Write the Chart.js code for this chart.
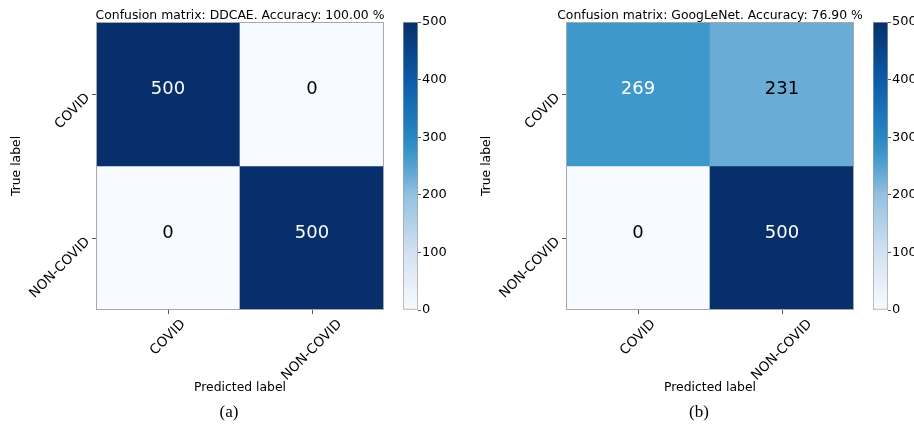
<!DOCTYPE html>
<html>
<head>
<meta charset="utf-8">
<script src="https://cdn.jsdelivr.net/npm/chart.js@4.4.1/dist/chart.umd.min.js"></script>
<style>
  html, body { margin: 0; padding: 0; background: #fff; overflow: hidden; }
  #page { position: relative; width: 914px; height: 428px; overflow: hidden; background: #fff; }
  .panel { position: absolute; top: 0; width: 470px; height: 428px; }
  .cm { position: absolute; left: 0; top: 0; }
  .cbar { position: absolute; left: 390px; top: 0; }
  .caption { position: absolute; top: 402px; width: 40px; text-align: center;
             font: 17px "Liberation Serif", "Times New Roman", serif; line-height: 20px; color: #000; }
</style>
</head>
<body>
<div id="page">
  <div class="panel" style="left:0">
    <canvas class="cm" id="cmA" width="400" height="428"></canvas>
    <canvas class="cbar" id="cbA" width="60" height="428"></canvas>
    <div class="caption" style="left:209px">(a)</div>
  </div>
  <div class="panel" style="left:470px">
    <canvas class="cm" id="cmB" width="400" height="428"></canvas>
    <canvas class="cbar" id="cbB" width="60" height="428"></canvas>
    <div class="caption" style="left:209px">(b)</div>
  </div>
</div>
<script>
// class names, rows = true label, columns = predicted label
const classes = ['COVID', 'NON-COVID'];
const ddcaeMatrix = [[500, 0], [0, 500]];
const googlenetMatrix = [[269, 231], [0, 500]];
const colorbarTicks = [0, 100, 200, 300, 400, 500];

const FONT = '"DejaVu Sans", Verdana, sans-serif';
const TICK_SIZE = 13.5;

// "Blues" style colour ramp
const bluesStops = [
  [0.0, '#f7fbff'], [0.2, '#d2e1f1'], [0.4, '#93c1e0'], [0.46, '#6badd6'],
  [0.54, '#3e97cb'], [0.6, '#2787c3'], [0.8, '#0b5ba8'], [1.0, '#062f6b']
];

function hexRgb(h) {
  return [1, 3, 5].map(i => parseInt(h.slice(i, i + 2), 16));
}

function cmap(t) {
  t = Math.min(1, Math.max(0, t));
  for (let k = 1; k < bluesStops.length; k++) {
    const [t1, c1] = bluesStops[k];
    if (t <= t1) {
      const [t0, c0] = bluesStops[k - 1];
      const f = (t - t0) / (t1 - t0);
      const a = hexRgb(c0), b = hexRgb(c1);
      const c = a.map((v, i) => Math.round(v + (b[i] - v) * f));
      return `rgb(${c[0]},${c[1]},${c[2]})`;
    }
  }
  return bluesStops[bluesStops.length - 1][1];
}

// title, cell counts, frame and slanted x labels
const matrixDecor = {
  id: 'matrixDecor',
  afterDatasetsDraw(chart, args, opts) {
    const { ctx, chartArea: a } = chart;
    ctx.save();
    ctx.font = `18px ${FONT}`;
    ctx.textAlign = 'center';
    ctx.textBaseline = 'alphabetic';
    chart.data.datasets.forEach((ds, i) => {
      chart.getDatasetMeta(i).data.forEach((bar, j) => {
        const v = ds.counts[j];
        const p = bar.getCenterPoint();
        ctx.fillStyle = v > opts.thresh ? '#fff' : '#000';
        ctx.fillText(String(v), p.x, p.y);
      });
    });
    ctx.strokeStyle = '#a8a8a8';
    ctx.lineWidth = 1;
    ctx.strokeRect(a.left + 0.5, a.top + 0.5, a.width - 1, a.height - 1);
    ctx.restore();
  },
  afterDraw(chart, args, opts) {
    const { ctx, chartArea: a } = chart;
    const xs = chart.scales.x;
    ctx.save();
    ctx.fillStyle = '#000';
    ctx.font = `12.4px ${FONT}`;
    ctx.textAlign = 'center';
    ctx.textBaseline = 'alphabetic';
    ctx.fillText(opts.title, (a.left + a.right) / 2, a.top - 3.3);

    ctx.font = `${TICK_SIZE}px ${FONT}`;
    ctx.textBaseline = 'middle';
    xs.ticks.forEach((t, i) => {
      const x = xs.getPixelForTick(i);
      const w = ctx.measureText(classes[i]).width;
      const box = (w + TICK_SIZE * 1.1) * Math.SQRT1_2;
      ctx.save();
      ctx.translate(x, a.bottom + 7 + box / 2);
      ctx.rotate(-Math.PI / 4);
      ctx.fillText(classes[i], 0, 0);
      ctx.restore();
    });
    ctx.restore();
  }
};

function drawMatrix(id, matrix, model) {
  const total = matrix.flat().reduce((s, v) => s + v, 0);
  const correct = matrix.reduce((s, row, i) => s + row[i], 0);
  const accuracy = (100 * correct / total).toFixed(2);
  const vmax = Math.max(...matrix.flat());

  const datasets = matrix.map((row, i) => ({
    label: classes[i],
    data: row.map(() => 1),
    counts: row,
    backgroundColor: row.map(v => cmap(v / vmax)),
    borderWidth: 0,
    barPercentage: 1,
    categoryPercentage: 1
  }));

  return new Chart(document.getElementById(id), {
    type: 'bar',
    data: { labels: classes, datasets },
    plugins: [matrixDecor],
    options: {
      responsive: false,
      animation: false,
      layout: { padding: { left: 0, top: 22, right: 16, bottom: 0 } },
      plugins: {
        legend: { display: false },
        tooltip: { enabled: false },
        matrixDecor: { title: `Confusion matrix: ${model}. Accuracy: ${accuracy} %`, thresh: vmax / 2 }
      },
      scales: {
        x: {
          stacked: true,
          ticks: { display: false },
          grid: { offset: false, drawOnChartArea: false, drawTicks: true, tickLength: 4, tickColor: '#555' },
          border: { display: false },
          title: { display: true, text: 'Predicted label', color: '#000',
                   font: { family: FONT, size: 12.4 }, padding: { top: 0, bottom: 33 } },
          afterFit: s => { s.height = 118; s.paddingLeft = 0; s.paddingRight = 0; }
        },
        y: {
          type: 'linear',
          stacked: true,
          min: 0,
          max: 2,
          reverse: true,
          afterBuildTicks: s => { s.ticks = classes.map((c, i) => ({ value: i + 0.5 })); },
          ticks: {
            callback: (v, i) => classes[i],
            minRotation: 45, maxRotation: 45,
            padding: 4, labelOffset: 2,
            color: '#000', font: { family: FONT, size: TICK_SIZE }
          },
          grid: { drawOnChartArea: false, drawTicks: true, tickLength: 4, tickColor: '#555' },
          border: { display: false },
          title: { display: true, text: 'True label', color: '#000',
                   font: { family: FONT, size: 12.4 }, padding: { top: 9, bottom: 0 } },
          afterFit: s => { s.width = 96; s.paddingTop = 0; s.paddingBottom = 0; }
        }
      }
    }
  });
}

function drawColorbar(id) {
  const vmax = colorbarTicks[colorbarTicks.length - 1];
  return new Chart(document.getElementById(id), {
    type: 'bar',
    data: {
      labels: [''],
      datasets: [{
        data: [vmax],
        backgroundColor: c => {
          const chart = c.chart;
          if (!chart.chartArea) return null;
          const y = chart.scales.y;
          const g = chart.ctx.createLinearGradient(0, y.getPixelForValue(0), 0, y.getPixelForValue(vmax));
          bluesStops.forEach(([t, col]) => g.addColorStop(t, col));
          return g;
        },
        borderColor: '#a0a0a0',
        borderWidth: 1,
        borderSkipped: false,
        barPercentage: 1,
        categoryPercentage: 1
      }]
    },
    options: {
      responsive: false,
      animation: false,
      layout: { padding: { left: 13, top: 22, right: 0, bottom: 118 } },
      plugins: { legend: { display: false }, tooltip: { enabled: false } },
      scales: {
        x: { display: false },
        y: {
          position: 'right',
          min: 0,
          max: vmax,
          afterBuildTicks: s => { s.ticks = colorbarTicks.map(v => ({ value: v })); },
          ticks: { color: '#000', padding: 1, font: { family: FONT, size: 13 } },
          grid: { drawOnChartArea: false, drawTicks: true, tickLength: 3, tickColor: '#555' },
          border: { display: false },
          afterFit: s => { s.width = 32; s.paddingTop = 0; s.paddingBottom = 0; }
        }
      }
    }
  });
}

drawMatrix('cmA', ddcaeMatrix, 'DDCAE');
drawColorbar('cbA');
drawMatrix('cmB', googlenetMatrix, 'GoogLeNet');
drawColorbar('cbB');
</script>
</body>
</html>
